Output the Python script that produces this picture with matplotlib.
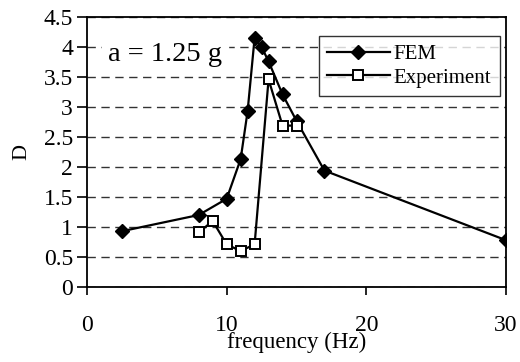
import matplotlib.pyplot as plt

fem_f = [2.5, 8, 10, 11, 11.5, 12, 12.5, 13, 14, 15, 17, 30]
fem_d = [0.93, 1.2, 1.47, 2.13, 2.93, 4.15, 4.0, 3.76, 3.21, 2.77, 1.94, 0.78]
exp_f = [8, 9, 10, 11, 12, 13, 14, 15]
exp_d = [0.91, 1.1, 0.71, 0.6, 0.71, 3.46, 2.69, 2.69]

plt.rcParams['font.family'] = 'Liberation Serif'

fig = plt.figure(figsize=(5.2, 3.62), dpi=100)
ax = fig.add_axes([87/520, 1 - 287/362, (506-87)/520, (287-17)/362])

ax.plot(fem_f, fem_d, color='black', lw=1.6, marker='D', ms=7.5,
        mfc='black', mec='black', label='FEM')
ax.plot(exp_f, exp_d, color='black', lw=1.6, marker='s', ms=7.5,
        mfc='white', mec='black', mew=1.4, label='Experiment')

ax.set_xlim(0, 30)
ax.set_ylim(0, 4.5)
ax.set_xticks([0, 10, 20, 30])
ax.set_yticks([0, 0.5, 1, 1.5, 2, 2.5, 3, 3.5, 4, 4.5])
ax.set_yticklabels(['0', '0.5', '1', '1.5', '2', '2.5', '3', '3.5', '4', '4.5'])
ax.yaxis.grid(True, color='#333333', ls=(0, (6, 4)), lw=1.0)
ax.set_axisbelow(True)
for s in ax.spines.values():
    s.set_linewidth(1.3)
ax.tick_params(axis='y', direction='out', length=7, width=1.2, labelsize=17, pad=3)
ax.tick_params(axis='x', direction='out', length=6, width=1.2, labelsize=17, pad=14)

ax.set_xlabel('frequency (Hz)', fontsize=16.5, labelpad=-3)
ax.set_ylabel('D', fontsize=16, labelpad=9)

ax.text(0.05, 0.86, 'a = 1.25 g', transform=ax.transAxes, fontsize=20.5,
        va='center', ha='left', backgroundcolor='white')

leg = ax.legend(loc='upper right', bbox_to_anchor=(0.985, 0.93), fontsize=15,
                frameon=True, fancybox=False, edgecolor='black',
                handlelength=3.0, borderpad=0.4, labelspacing=0.2,
                handletextpad=0.2, borderaxespad=0)
leg.get_frame().set_linewidth(1.0)

fig.savefig('out.png', dpi=100)
